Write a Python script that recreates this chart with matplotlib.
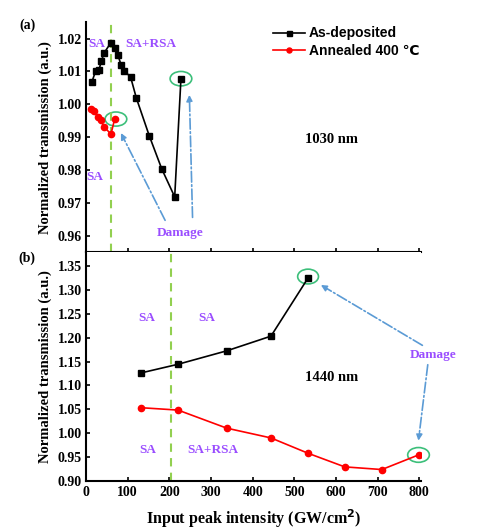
import matplotlib
matplotlib.use("Agg")
import matplotlib.pyplot as plt
from matplotlib.patches import Ellipse

# (a) 1030 nm
x_dep_a = [14, 23, 31, 37, 44, 60, 69, 77, 84, 92, 107, 121, 152, 182, 213, 228]
y_dep_a = [1.0067, 1.0100, 1.0103, 1.0132, 1.0157, 1.0188, 1.0172, 1.0149,
           1.0121, 1.0101, 1.0084, 1.0019, 0.9904, 0.9803, 0.9718, 1.0078]
x_ann_a = [11, 20, 28, 35, 44, 60, 69]
y_ann_a = [0.9986, 0.9979, 0.9961, 0.9951, 0.9931, 0.9909, 0.9955]

# (b) 1440 nm
x_dep_b = [132, 220, 338, 444, 533]
y_dep_b = [1.126, 1.144, 1.1725, 1.2033, 1.3255]
x_ann_b = [132, 221, 338, 444, 533, 621, 710, 798]
y_ann_b = [1.053, 1.048, 1.010, 0.9895, 0.9573, 0.9287, 0.9231, 0.9538]

x_ticks = [0, 100, 200, 300, 400, 500, 600, 700, 800]
line_a = 60
line_b = 205

purple = "#9A4DFF"
lgreen = "#92D050"
cgreen = "#3CBF7A"
blue = "#5B9BD5"

plt.rcParams['font.family'] = ['Liberation Serif', 'DejaVu Serif']
plt.rcParams['font.weight'] = 'bold'
plt.rcParams['font.size'] = 10

fig = plt.figure(figsize=(4.8, 5.29), dpi=100)
ax1 = fig.add_axes([0.179, 0.5236, 0.699, 0.4344])
ax2 = fig.add_axes([0.179, 0.0898, 0.699, 0.4338])

for ax in (ax1, ax2):
    ax.spines['top'].set_visible(False)
    ax.spines['right'].set_visible(False)
    ax.spines['left'].set_linewidth(1.5)
    ax.spines['bottom'].set_linewidth(1.5)
    ax.set_xlim(0, 805)
    ax.set_xticks(x_ticks)
    ax.tick_params(direction='in', length=3, width=1.2, labelsize=10, pad=3)
    ax.set_ylabel("Normalized transmission (a.u.)", fontsize=10.5, fontweight='bold', labelpad=4)

# panel (a)
ax1.set_ylim(0.955, 1.025)
ax1.set_yticks([0.96, 0.97, 0.98, 0.99, 1.00, 1.01, 1.02])
ax1.set_yticklabels(["%.2f" % v for v in ax1.get_yticks()], fontweight='bold')
ax1.tick_params(axis='x', labelbottom=False)
ax1.axvline(line_a, color=lgreen, ls='--', lw=1.5, dashes=(4, 3))
ax1.plot(x_dep_a, y_dep_a, 'k-s', ms=4.5, lw=1.2, label="As-deposited")
ax1.plot(x_ann_a, y_ann_a, '-o', color='red', ms=4.5, lw=1.2, label="Annealed 400 ℃")
ax1.add_patch(Ellipse((x_dep_a[-1], y_dep_a[-1]), 52, 0.0044, fill=False, ec=cgreen, lw=1.2))
ax1.add_patch(Ellipse((x_ann_a[-1] + 3, y_ann_a[-1]), 52, 0.0043, fill=False, ec=cgreen, lw=1.2))
ax1.text(26, 1.0183, "SA", color=purple, ha='center', va='center', fontsize=9.5, fontweight='bold')
ax1.text(155, 1.0183, "SA+RSA", color=purple, ha='center', va='center', fontsize=9.5, fontweight='bold')
ax1.text(21, 0.9779, "SA", color=purple, ha='center', va='center', fontsize=9.5, fontweight='bold')
ax1.text(227, 0.9608, "Damage", color=purple, ha='center', va='center', fontsize=9.5, fontweight='bold')
ax1.text(590, 0.9892, "1030 nm", color='black', ha='center', va='center', fontsize=10.5, fontweight='bold')
arr = dict(arrowstyle='-|>', color=blue, lw=1.2, ls='-.', mutation_scale=9)
ax1.annotate("", xy=(81, 0.992), xytext=(193, 0.9639), arrowprops=arr)
ax1.annotate("", xy=(248, 1.0037), xytext=(256, 0.9647), arrowprops=arr)
leg = ax1.legend(loc='upper left', bbox_to_anchor=(0.568, 0.95), bbox_transform=fig.transFigure,
                 frameon=False, handlelength=2.3, handletextpad=0.3, labelspacing=0.25,
                 borderaxespad=0, borderpad=0, markerscale=0.8,
                 prop={'family': ['Liberation Sans', 'DejaVu Sans'], 'weight': 'bold', 'size': 10})
fig.text(27 / 480, 1 - 25 / 529, "(a)", fontsize=10, fontweight='bold', ha='center', va='center')

# panel (b)
ax2.set_ylim(0.898, 1.38)
ax2.set_yticks([0.90, 0.95, 1.00, 1.05, 1.10, 1.15, 1.20, 1.25, 1.30, 1.35])
ax2.set_yticklabels(["%.2f" % v for v in ax2.get_yticks()], fontweight='bold')
ax2.set_xticklabels([str(v) for v in x_ticks], fontweight='bold')
ax2.axvline(line_b, color=lgreen, ls='--', lw=1.5, dashes=(4, 3))
ax2.plot(x_dep_b, y_dep_b, 'k-s', ms=4.5, lw=1.2)
ax2.plot(x_ann_b, y_ann_b, '-o', color='red', ms=4.5, lw=1.2)
ax2.add_patch(Ellipse((x_dep_b[-1], y_dep_b[-1] + 0.003), 50, 0.031, fill=False, ec=cgreen, lw=1.2))
ax2.add_patch(Ellipse((x_ann_b[-1], y_ann_b[-1]), 52, 0.031, fill=False, ec=cgreen, lw=1.2, clip_on=False))
ax2.text(145, 1.241, "SA", color=purple, ha='center', va='center', fontsize=9.5, fontweight='bold')
ax2.text(289, 1.241, "SA", color=purple, ha='center', va='center', fontsize=9.5, fontweight='bold')
ax2.text(148, 0.964, "SA", color=purple, ha='center', va='center', fontsize=9.5, fontweight='bold')
ax2.text(305, 0.964, "SA+RSA", color=purple, ha='center', va='center', fontsize=9.5, fontweight='bold')
ax2.text(832, 1.163, "Damage", color=purple, ha='center', va='center', fontsize=9.5, fontweight='bold')
ax2.text(590, 1.117, "1440 nm", color='black', ha='center', va='center', fontsize=10.5, fontweight='bold')
ax2.annotate("", xy=(558, 1.3137), xytext=(813, 1.181), arrowprops=arr, annotation_clip=False)
ax2.annotate("", xy=(797, 0.978), xytext=(821, 1.149), arrowprops=arr, annotation_clip=False)
ax2.set_xlabel("Input peak intensity (GW/cm$^\\mathbf{2}$)", fontsize=11.5, fontweight='bold', labelpad=6)
fig.text(27 / 480, 1 - 258 / 529, "(b)", fontsize=10, fontweight='bold', ha='center', va='center')

fig.savefig("out.png", dpi=100)
